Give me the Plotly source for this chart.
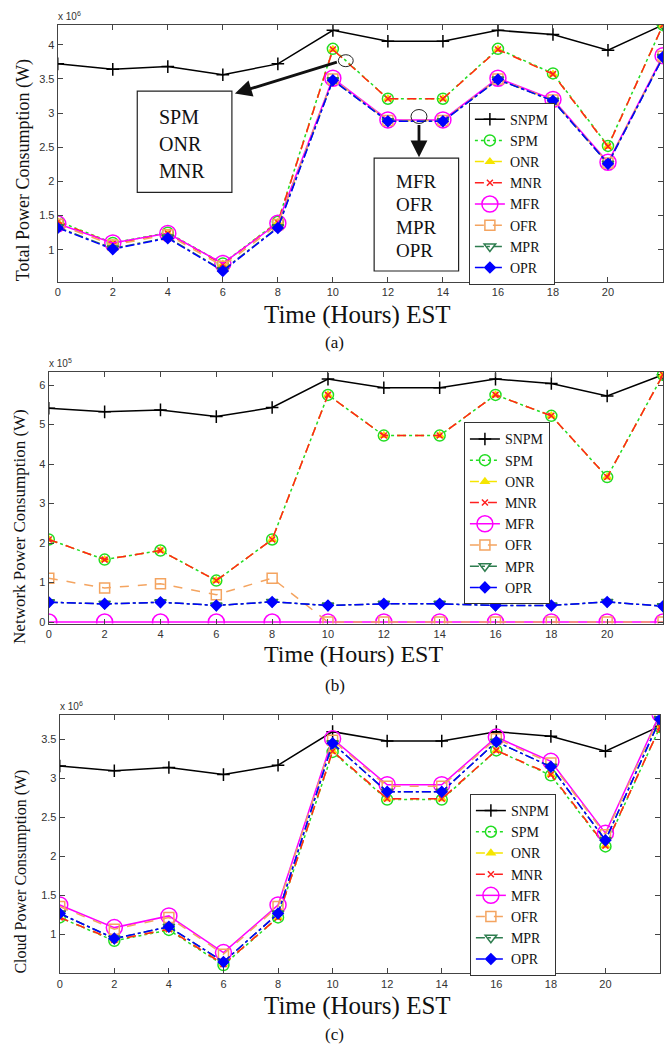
import plotly.graph_objects as go

hours = [0, 2, 4, 6, 8, 10, 12, 14, 16, 18, 20, 22]
xticks = [0, 2, 4, 6, 8, 10, 12, 14, 16, 18, 20, 22]

# (a) Total power consumption, x 1e6 W
a_SNPM = [3.72, 3.64, 3.68, 3.56, 3.72, 4.21, 4.05, 4.05, 4.21, 4.15, 3.92, 4.29]
a_SPM = [1.42, 1.10, 1.25, 0.80, 1.41, 3.94, 3.21, 3.21, 3.94, 3.58, 2.52, 4.29]
a_ONR = [1.41, 1.09, 1.24, 0.79, 1.40, 3.93, 3.21, 3.21, 3.93, 3.57, 2.51, 4.29]
a_MNR = [1.41, 1.09, 1.24, 0.79, 1.40, 3.93, 3.21, 3.21, 3.93, 3.57, 2.51, 4.29]
a_MFR = [1.38, 1.10, 1.24, 0.80, 1.39, 3.51, 2.90, 2.90, 3.51, 3.20, 2.28, 3.84]
a_OFR = [1.37, 1.07, 1.22, 0.76, 1.37, 3.50, 2.89, 2.89, 3.50, 3.19, 2.27, 3.83]
a_MPR = [1.33, 1.02, 1.18, 0.70, 1.33, 3.48, 2.88, 2.88, 3.49, 3.18, 2.26, 3.82]
a_OPR = [1.32, 1.01, 1.17, 0.69, 1.32, 3.48, 2.88, 2.88, 3.49, 3.18, 2.26, 3.82]

# (b) Network power consumption, x 1e5 W
b_SNPM = [5.41, 5.32, 5.37, 5.20, 5.43, 6.15, 5.93, 5.93, 6.15, 6.04, 5.72, 6.26]
b_SPM = [2.09, 1.58, 1.81, 1.05, 2.09, 5.75, 4.72, 4.72, 5.75, 5.22, 3.67, 6.26]
b_ONR = [2.09, 1.58, 1.81, 1.05, 2.09, 5.75, 4.72, 4.72, 5.75, 5.22, 3.67, 6.26]
b_MNR = [2.09, 1.58, 1.81, 1.05, 2.09, 5.75, 4.72, 4.72, 5.75, 5.22, 3.67, 6.26]
b_MFR = [0, 0, 0, 0, 0, 0, 0, 0, 0, 0, 0, 0]
b_OFR = [1.11, 0.86, 0.97, 0.69, 1.11, 0, 0, 0, 0, 0, 0, 0]
b_MPR = [0.50, 0.46, 0.50, 0.42, 0.51, 0.42, 0.46, 0.46, 0.42, 0.42, 0.51, 0.40]
b_OPR = [0.50, 0.46, 0.50, 0.42, 0.51, 0.42, 0.46, 0.46, 0.42, 0.42, 0.51, 0.40]

# (c) Cloud power consumption, x 1e6 W
c_SNPM = [3.16, 3.10, 3.14, 3.05, 3.17, 3.60, 3.48, 3.48, 3.60, 3.54, 3.35, 3.67]
c_SPM = [1.22, 0.92, 1.06, 0.61, 1.22, 3.34, 2.73, 2.73, 3.36, 3.04, 2.13, 3.66]
c_ONR = [1.22, 0.93, 1.07, 0.62, 1.22, 3.35, 2.74, 2.74, 3.36, 3.05, 2.14, 3.66]
c_MNR = [1.22, 0.93, 1.07, 0.62, 1.22, 3.35, 2.74, 2.74, 3.36, 3.05, 2.14, 3.66]
c_MFR = [1.38, 1.09, 1.24, 0.77, 1.38, 3.51, 2.92, 2.92, 3.53, 3.22, 2.30, 3.83]
c_OFR = [1.36, 1.07, 1.22, 0.75, 1.36, 3.49, 2.90, 2.90, 3.51, 3.20, 2.28, 3.81]
c_MPR = [1.27, 0.95, 1.10, 0.65, 1.27, 3.45, 2.83, 2.83, 3.47, 3.15, 2.21, 3.76]
c_OPR = [1.27, 0.95, 1.10, 0.65, 1.27, 3.45, 2.83, 2.83, 3.47, 3.15, 2.21, 3.76]

names = ["SNPM", "SPM", "ONR", "MNR", "MFR", "OFR", "MPR", "OPR"]
styles = {
    "SNPM": dict(color="#000000", dash="solid", symbol="cross-thin-open", size=9),
    "SPM": dict(color="#22dd22", dash="dot", symbol="circle-open", size=11),
    "ONR": dict(color="#f5e500", dash="dash", symbol="triangle-up", size=7),
    "MNR": dict(color="#ff2020", dash="dash", symbol="x-thin-open", size=6),
    "MFR": dict(color="#ff00ff", dash="solid", symbol="circle-open", size=16),
    "OFR": dict(color="#f4a460", dash="dash", symbol="square-open", size=10),
    "MPR": dict(color="#2e7d4f", dash="dashdot", symbol="triangle-down-open", size=10),
    "OPR": dict(color="#0000ff", dash="dashdot", symbol="diamond", size=8),
}

panels = [
    ("", "legend", dict(zip(names, [a_SNPM, a_SPM, a_ONR, a_MNR, a_MFR, a_OFR, a_MPR, a_OPR]))),
    ("2", "legend2", dict(zip(names, [b_SNPM, b_SPM, b_ONR, b_MNR, b_MFR, b_OFR, b_MPR, b_OPR]))),
    ("3", "legend3", dict(zip(names, [c_SNPM, c_SPM, c_ONR, c_MNR, c_MFR, c_OFR, c_MPR, c_OPR]))),
]

W, H = 666, 1049
fig = go.Figure()
for suf, leg, data in panels:
    for n in names:
        s = styles[n]
        fig.add_trace(go.Scatter(
            x=hours, y=data[n], name=n, mode="lines+markers",
            xaxis="x" + suf, yaxis="y" + suf, legend=leg,
            line=dict(color=s["color"], dash=s["dash"], width=1.5),
            marker=dict(symbol=s["symbol"], size=s["size"], color=s["color"],
                        line=dict(color=s["color"], width=1.5)),
        ))

def fx(px):
    return px / W

def fy(py):
    return 1 - py / H

tickfont = dict(family="Liberation Sans", size=11, color="#333333")
axis_common = dict(showline=True, linecolor="#444444", linewidth=1.2, mirror="ticks",
                   ticks="inside", ticklen=5, tickcolor="#444444", showgrid=False,
                   zeroline=False, tickfont=tickfont)

# panel pixel boxes: (left, right, top, bottom)
boxes = [(55, 663, 25, 283), (46, 663, 373, 626), (57, 660, 718, 977)]
yranges = [[0.53, 4.29], [-0.04, 6.34], [0.505, 3.81]]
ytickvals = [[1, 1.5, 2, 2.5, 3, 3.5, 4], [0, 1, 2, 3, 4, 5, 6], [1, 1.5, 2, 2.5, 3, 3.5]]
yticktext = [["1", "1.5", "2", "2.5", "3", "3.5", "4"], ["0", "1", "2", "3", "4", "5", "6"],
             ["1", "1.5", "2", "2.5", "3", "3.5"]]
exps = ["6", "5", "6"]
ytitles = ["Total Power Consumption (W)", "Network Power Consumption (W)", "Cloud Power Consumption (W)"]
ytitle_pos = [(20, 171, 18), (17, 528, 17), (18, 875, 16)]
xtitle_pos = [(356, 316), (352, 657), (356, 1010)]
xtitle_size = [25, 24, 25]
captions = ["(a)", "(b)", "(c)"]
caption_y = [344, 688, 1038]
legend_pos = [(468, 103), (463, 424), (469, 797)]

layout = dict(width=W, height=H, margin=dict(l=0, r=0, t=0, b=0),
              paper_bgcolor="white", plot_bgcolor="white", showlegend=True)
annotations = []
for i, (suf, leg, _) in enumerate(panels):
    l, r, t, b = boxes[i]
    layout["xaxis" + suf] = dict(domain=[fx(l), fx(r)], range=[0, 22], anchor="y" + suf,
                                 tickvals=xticks, **axis_common)
    layout["yaxis" + suf] = dict(domain=[fy(b), fy(t)], range=yranges[i], anchor="x" + suf,
                                 tickvals=ytickvals[i], ticktext=yticktext[i], **axis_common)
    lx, ly = legend_pos[i]
    layout[leg] = dict(x=fx(lx), y=fy(ly), xanchor="left", yanchor="top",
                       bordercolor="#333333", borderwidth=1, bgcolor="white",
                       font=dict(family="Liberation Serif", size=14, color="#111111"),
                       tracegroupgap=0, itemwidth=30)
    # exponent label
    annotations.append(dict(x=fx(l) - 0.003, y=fy(t - 1), xref="paper", yref="paper",
                            xanchor="left", yanchor="bottom", showarrow=False,
                            text="x 10<sup>" + exps[i] + "</sup>",
                            font=dict(family="Liberation Sans", size=10, color="#333333")))
    # y title
    tx, ty, ts = ytitle_pos[i]
    annotations.append(dict(x=fx(tx), y=fy(ty), xref="paper", yref="paper",
                            xanchor="center", yanchor="middle", showarrow=False, textangle=-90,
                            text=ytitles[i],
                            font=dict(family="Liberation Serif", size=ts, color="#111111")))
    # x title
    xx, xy = xtitle_pos[i]
    annotations.append(dict(x=fx(xx), y=fy(xy), xref="paper", yref="paper",
                            xanchor="center", yanchor="middle", showarrow=False,
                            text="Time (Hours) EST",
                            font=dict(family="Liberation Serif", size=xtitle_size[i], color="#111111")))
    annotations.append(dict(x=fx(333), y=fy(caption_y[i]), xref="paper", yref="paper",
                            xanchor="center", yanchor="middle", showarrow=False,
                            text=captions[i],
                            font=dict(family="Liberation Serif", size=17, color="#111111")))

# callouts in panel (a) (data coordinates of panel a)
shapes = [
    dict(type="rect", xref="x", yref="y", x0=2.89, x1=6.33, y0=1.84, y1=3.32,
         line=dict(color="#222222", width=1.2), fillcolor="white", layer="above"),
    dict(type="rect", xref="x", yref="y", x0=11.5, x1=14.57, y0=0.69, y1=2.34,
         line=dict(color="#222222", width=1.2), fillcolor="white", layer="above"),
    dict(type="circle", xref="x", yref="y", x0=10.2, x1=10.74, y0=3.679, y1=3.854,
         line=dict(color="#222222", width=1)),
    dict(type="circle", xref="x", yref="y", x0=12.84, x1=13.42, y0=2.848, y1=3.052,
         line=dict(color="#222222", width=1)),
]
annotations.append(dict(x=6.44, y=3.286, ax=10.2, ay=3.752, xref="x", yref="y",
                        axref="x", ayref="y", showarrow=True, arrowhead=2, arrowsize=1.2,
                        arrowwidth=2.8, arrowcolor="#111111", text=""))
annotations.append(dict(x=13.13, y=2.353, ax=13.13, ay=2.848, xref="x", yref="y",
                        axref="x", ayref="y", showarrow=True, arrowhead=2, arrowsize=1.2,
                        arrowwidth=2.8, arrowcolor="#111111", text=""))
box1_lines = [("SPM", 2.936), ("ONR", 2.542), ("MNR", 2.149)]
box2_lines = [("MFR", 2.003), ("OFR", 1.668), ("MPR", 1.332), ("OPR", 0.983)]
for txt, yy in box1_lines:
    annotations.append(dict(x=3.62, y=yy, xref="x", yref="y", showarrow=False,
                            xanchor="left", yanchor="middle", text=txt,
                            font=dict(family="Liberation Serif", size=20, color="#111111")))
for txt, yy in box2_lines:
    annotations.append(dict(x=12.22, y=yy, xref="x", yref="y", showarrow=False,
                            xanchor="left", yanchor="middle", text=txt,
                            font=dict(family="Liberation Serif", size=19, color="#111111")))

layout["annotations"] = annotations
layout["shapes"] = shapes
fig.update_layout(**layout)
fig.write_html("out.html")
